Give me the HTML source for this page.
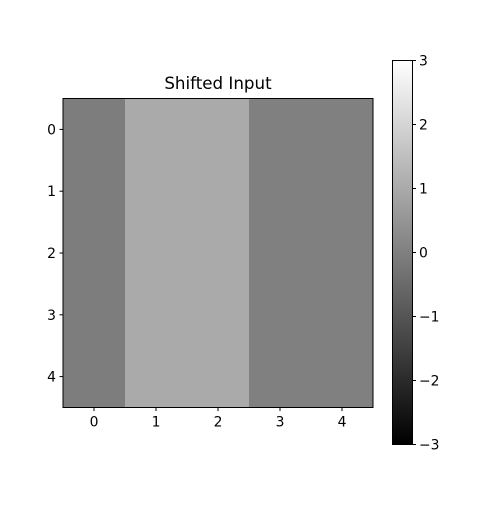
<!DOCTYPE html>
<html><head><meta charset="utf-8"><style>
body{margin:0;background:#fff;font-family:"Liberation Sans","DejaVu Sans",sans-serif;}
svg text{font-family:"DejaVu Sans","Liberation Sans",sans-serif;font-size:13.9px;fill:#000;}
</style></head><body>
<svg id="c" width="500" height="500">
<defs><linearGradient id="g" x1="0" y1="1" x2="0" y2="0"><stop offset="0" stop-color="#000"/><stop offset="1" stop-color="#fff"/></linearGradient></defs>
<text x="218" y="89" text-anchor="middle" style="font-size:16.7px">Shifted Input</text>
<g id="cells"></g>
<rect x="63" y="98.5" width="310" height="309" fill="none" stroke="#000" stroke-width="1"/>
<g id="ticks"></g>
<rect x="392.5" y="60.5" width="20" height="384" fill="url(#g)" stroke="#000"/>
<g id="cbticks"></g>
</svg>
<script>
const grid = [
 [-0.05, 1, 1, 0, 0],
 [-0.05, 1, 1, 0, 0],
 [-0.05, 1, 1, 0, 0],
 [-0.05, 1, 1, 0, 0],
 [-0.05, 1, 1, 0, 0]
];
const xTicks = [0,1,2,3,4];
const yTicks = [0,1,2,3,4];
const cbTicks = [-3,-2,-1,0,1,2,3];
const vmin=-3, vmax=3;
const NS="http://www.w3.org/2000/svg";
const L=63,T=98.5,W=310,H=309,n=5;
const cw=W/n, ch=H/n;
const xs=i=>L+(i+0.5)*cw, ys=j=>T+(j+0.5)*ch;
const cb=v=>60.5+384*(vmax-v)/(vmax-vmin);
function gray(v){const g=Math.round(255*(v-vmin)/(vmax-vmin));return `rgb(${g},${g},${g})`;}
function mk(t,a,p){const e=document.createElementNS(NS,t);for(const k in a)e.setAttribute(k,a[k]);p.appendChild(e);return e;}
const cells=document.getElementById('cells');
grid.forEach((row,j)=>row.forEach((v,i)=>{
 const r=mk('rect',{x:L+i*cw,y:T+j*ch,width:cw+0.5,height:ch+0.5,fill:gray(v)},cells);
 
 
}));
const tk=document.getElementById('ticks');
xTicks.forEach(t=>{
 mk('line',{x1:xs(t),x2:xs(t),y1:T+H,y2:T+H+3.5,stroke:'#000'},tk);
 const e=mk('text',{x:xs(t),y:T+H+19,'text-anchor':'middle'},tk);e.textContent=t;
 
 
});
yTicks.forEach(t=>{
 mk('line',{x1:L-3.5,x2:L,y1:ys(t),y2:ys(t),stroke:'#000'},tk);
 const e=mk('text',{x:L-7,y:ys(t)+5,'text-anchor':'end'},tk);e.textContent=t;
 
 
});
const ct=document.getElementById('cbticks');
cbTicks.forEach(t=>{
 mk('line',{x1:412.5,x2:416,y1:cb(t),y2:cb(t),stroke:'#000'},ct);
 const e=mk('text',{x:419,y:cb(t)+5},ct);e.textContent=t<0?'\u2212'+(-t):t;
 
 
});
</script>
</body></html>
